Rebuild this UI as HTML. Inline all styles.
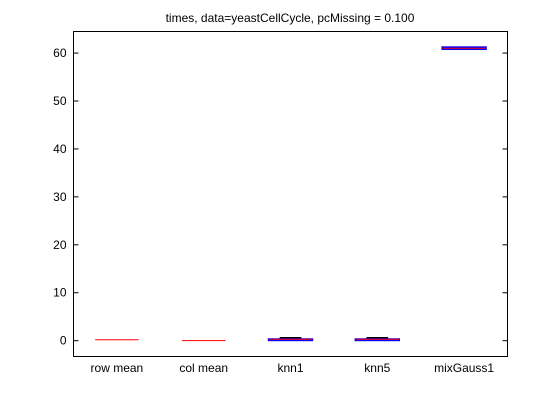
<!DOCTYPE html>
<html><head><meta charset="utf-8"><style>
body{margin:0;background:#fff;}
svg{display:block;font-family:"Liberation Sans",sans-serif;}
</style></head><body>
<svg id="c" width="560" height="420">
<rect width="560" height="420" fill="#fff"/>
<text x="290" y="22" font-size="12" text-anchor="middle">times, data=yeastCellCycle, pcMissing = 0.100</text>
<g id="marks"></g>
<rect x="73.5" y="31.5" width="434" height="325" fill="none" stroke="#000"/>
<g id="axes"></g>
</svg>
<script>
const categories=["row mean","col mean","knn1","knn5","mixGauss1"];
const q1=[0.2,0.0,0.1,0.1,60.85];
const medians=[0.2,0.0,0.3,0.3,61.0];
const q3=[0.2,0.0,0.3,0.3,61.2];
const whiskerHi=[0.2,0.0,0.6,0.6,61.2];
const whiskerLo=[0.2,0.0,0.1,0.1,60.85];
const yTicks=[0,10,20,30,40,50,60];
const L=73.5,R=507.5,T=31.5,B=356.5,ymin=-3.3,ymax=64.5;
const NS="http://www.w3.org/2000/svg";
function xs(i){return L+(i+0.5)*(R-L)/categories.length;}
function ys(v){return B-(v-ymin)/(ymax-ymin)*(B-T);}
function mk(t,a,p){const e=document.createElementNS(NS,t);for(const k in a)e.setAttribute(k,a[k]);p.appendChild(e);return e;}
const marks=document.getElementById('marks'),axes=document.getElementById('axes');
const bw=(R-L)/categories.length*0.5;
categories.forEach((c,i)=>{
  const x=xs(i);
  const g=mk('g',{},marks);
  
  
  if(whiskerHi[i]>q3[i]){
    mk('line',{x1:x-bw/4,x2:x+bw/4,y1:ys(whiskerHi[i]),y2:ys(whiskerHi[i]),stroke:'#000','stroke-width':1.5},g);
    mk('line',{x1:x,x2:x,y1:ys(whiskerHi[i]),y2:ys(q3[i]),stroke:'#000','stroke-dasharray':'3,2'},g);
  }
  const h=Math.max(ys(q1[i])-ys(q3[i]),0);
  if(c!=="row mean"&&c!=="col mean"){
    mk('rect',{x:x-bw/2,y:ys(q3[i]),width:bw,height:h,fill:'none',stroke:'#00f','stroke-width':2},g);
  }
  mk('line',{x1:x-bw/2,x2:x+bw/2,y1:ys(medians[i]),y2:ys(medians[i]),stroke:'#f00','stroke-width':1},g);
  const t=mk('text',{x:x,y:372,'font-size':12,'text-anchor':'middle'},axes);
  t.textContent=c;
  
  
});
yTicks.forEach(v=>{
  const y=ys(v);
  mk('line',{x1:L,x2:L+5,y1:y,y2:y,stroke:'#000'},axes);
  mk('line',{x1:R-5,x2:R,y1:y,y2:y,stroke:'#000'},axes);
  const t=mk('text',{x:L-7,y:y+4,'font-size':12,'text-anchor':'end'},axes);
  t.textContent=v;
  
  
});
</script>
</body></html>
